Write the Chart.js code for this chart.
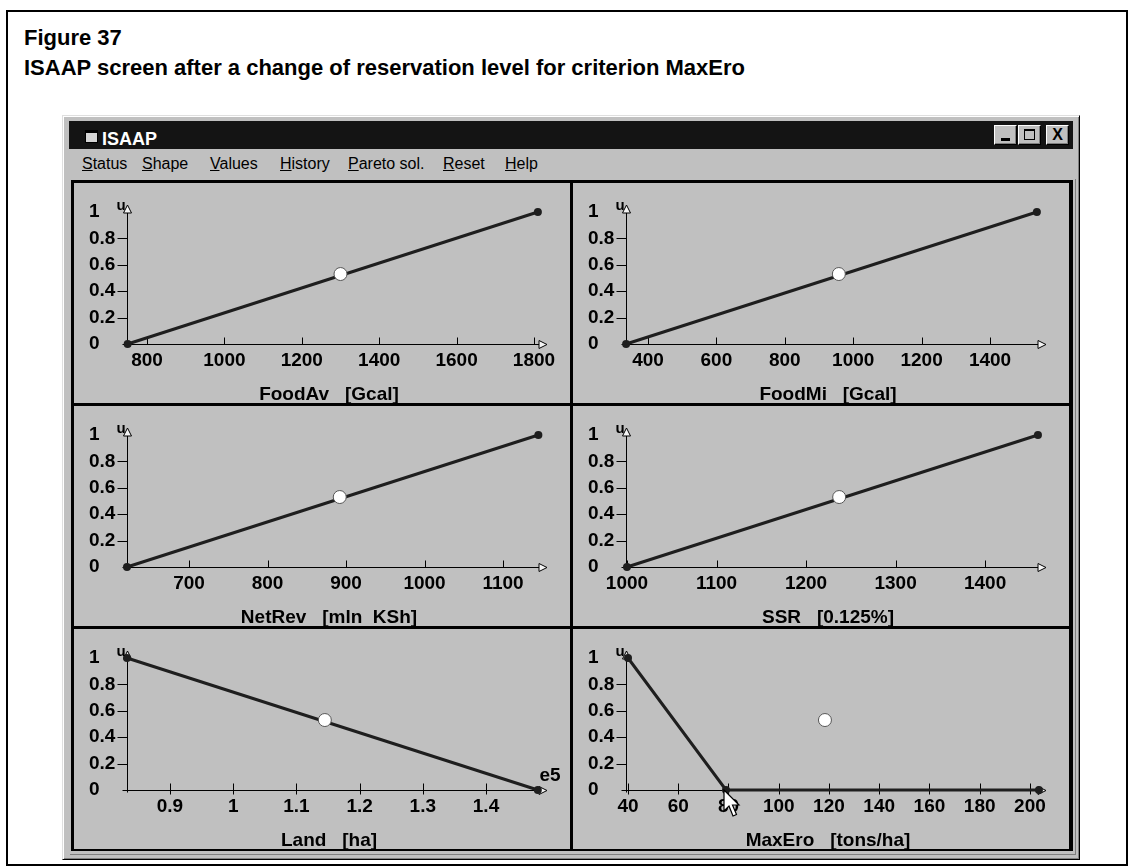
<!DOCTYPE html>
<html>
<head>
<meta charset="utf-8">
<title>ISAAP</title>
<script src="https://cdn.jsdelivr.net/npm/chart.js@4.4.1/dist/chart.umd.min.js"></script>
<style>
  body { margin:0; width:1128px; height:868px; background:#fff; position:relative; overflow:hidden; font-family:'Liberation Sans', Arial, sans-serif; }
  #marco { position:absolute; left:6px; top:10px; width:1118px; height:852px; border:2px solid #000; }
  .cap { position:absolute; left:24px; font-weight:bold; font-size:22px; line-height:24px; color:#000; white-space:nowrap; }
  #ventana { position:absolute; left:62px; top:115px; width:1018px; height:745px; box-sizing:border-box; background:#c0c0c0;
             border:1px solid; border-color:#dfdfdf #000 #000 #dfdfdf; box-shadow: inset 1px 1px #fff, inset -1px -1px #808080; }
  #barra { position:absolute; left:69px; top:121px; width:1004px; height:28px; background:#141414; }
  #icono { position:absolute; left:85px; top:130px; width:11px; height:9px; background:#d4d4d4; border:1px solid #000; border-top-width:3px; }
  #nombre { position:absolute; left:102px; top:130px; color:#fff; font-weight:bold; font-size:18px; line-height:18px; }
  .boton { position:absolute; top:125px; width:23px; height:20px; box-sizing:border-box; background:#c0c0c0;
           border:1px solid; border-color:#fff #000 #000 #fff; box-shadow: inset -1px -1px #808080; }
  .menu { position:absolute; top:156px; font-size:16px; line-height:16px; color:#000; white-space:nowrap; }
  #rejilla { position:absolute; left:71px; top:180px; width:1002px; height:671px; background:#000; }
  #borde2 { position:absolute; left:70px; top:179px; width:1006px; height:676px; box-sizing:border-box; border-right:1px solid #808080; border-bottom:1px solid #808080; }
  canvas.panel { position:absolute; background:#c0c0c0; }
  #cursor { position:absolute; left:723px; top:789px; }
</style>
</head>
<body>
<div id="marco"></div>
<div class="cap" style="top:26px">Figure 37</div>
<div class="cap" style="top:56px">ISAAP screen after a change of reservation level for criterion MaxEro</div>

<div id="ventana"></div>
<div id="barra"></div>
<div id="icono"></div>
<div id="nombre">ISAAP</div>
<div class="boton" style="left:994px"><div style="position:absolute;left:6px;top:12px;width:9px;height:3px;background:#000"></div></div>
<div class="boton" style="left:1018px"><div style="position:absolute;left:5px;top:3px;width:9px;height:8px;border:1px solid #000;border-top-width:2px"></div></div>
<div class="boton" style="left:1046px;text-align:center;font-weight:bold;font-size:16px;line-height:18px">X</div>

<div class="menu" style="left:82px"><u>S</u>tatus</div>
<div class="menu" style="left:142px"><u>S</u>hape</div>
<div class="menu" style="left:210px"><u>V</u>alues</div>
<div class="menu" style="left:280px"><u>H</u>istory</div>
<div class="menu" style="left:348px"><u>P</u>areto sol.</div>
<div class="menu" style="left:443px"><u>R</u>eset</div>
<div class="menu" style="left:505px"><u>H</u>elp</div>

<div id="borde2"></div>
<div id="rejilla">
  <canvas class="panel" width="496" height="220" style="left:3px;top:3px"></canvas>
  <canvas class="panel" width="496" height="220" style="left:502px;top:3px"></canvas>
  <canvas class="panel" width="496" height="220" style="left:3px;top:226px"></canvas>
  <canvas class="panel" width="496" height="220" style="left:502px;top:226px"></canvas>
  <canvas class="panel" width="496" height="220" style="left:3px;top:449px"></canvas>
  <canvas class="panel" width="496" height="220" style="left:502px;top:449px"></canvas>
</div>

<svg id="cursor" width="20" height="30" viewBox="0 0 20 30">
  <path d="M1 1 L1 22 L6 17 L10 27 L13.5 25.5 L9.5 16 L16 16 Z" fill="#fff" stroke="#000" stroke-width="1.2"/>
</svg>

<script>
// --- DATOS ---
const titulosEjes = ['FoodAv   [Gcal]', 'FoodMi   [Gcal]', 'NetRev   [mln  KSh]', 'SSR   [0.125%]', 'Land   [ha]', 'MaxEro   [tons/ha]'];
const ticksX = [
  [800, 1000, 1200, 1400, 1600, 1800],
  [400, 600, 800, 1000, 1200, 1400],
  [700, 800, 900, 1000, 1100],
  [1000, 1100, 1200, 1300, 1400],
  [0.9, 1, 1.1, 1.2, 1.3, 1.4],          // Land en unidades de e5
  [40, 60, 80, 100, 120, 140, 160, 180, 200]
];
const rangoX = [[748.3, 1833.6], [335.7, 1563.7], [621, 1156], [998.9, 1468], [0.832, 1.4965], [39.2, 206.4]];
const ticksY = [0, 0.2, 0.4, 0.6, 0.8, 1];
const maxY = 1.053;

// funcion de logro de cada criterio (x, u)
const curvaX = [[750, 1810], [336, 1537], [621, 1145], [1000, 1459], [0.832, 1.482], [40, 79, 203.6]];
const curvaU = [[0, 1], [0, 1], [0, 1], [0, 1], [1, 0], [1, 0, 0]];
// solucion actual (circulo blanco)
const actualX = [1300, 958, 892, 1237, 1.145, 118.4];
const actualU = [0.53, 0.53, 0.53, 0.53, 0.53, 0.53];
const exponentes = ['', '', '', '', 'e5', ''];

const fuente = "'Liberation Sans', Arial, sans-serif";
Chart.defaults.font.family = fuente;
Chart.defaults.color = '#000';

// Ejes con flechas abiertas, marcas, la etiqueta "u" y el titulo del eje
const ejesISAAP = {
  id: 'ejesISAAP',
  beforeDatasetsDraw(chart, args, opts) {
    const { ctx, chartArea: a, scales: { x, y } } = chart;
    const x0 = Math.round(a.left) + 0.5;
    const y0 = Math.round(y.getPixelForValue(0)) + 0.5;
    ctx.save();
    ctx.strokeStyle = '#000';
    ctx.lineWidth = 1;
    ctx.beginPath();
    ctx.moveTo(x0, y0 + 2); ctx.lineTo(x0, a.top + 8);
    ctx.moveTo(x0 - 5, y0); ctx.lineTo(a.right - 8, y0);
    ticksY.forEach(v => {
      if (v > 0 && v < 1) {
        const p = Math.round(y.getPixelForValue(v)) + 0.5;
        ctx.moveTo(x0 - 10, p); ctx.lineTo(x0, p);
      }
    });
    opts.marcas.forEach(v => {
      const p = Math.round(x.getPixelForValue(v)) + 0.5;
      ctx.moveTo(p, y0 - 7); ctx.lineTo(p, y0 + opts.bajo);
    });
    ctx.stroke();
    // flecha arriba
    ctx.fillStyle = '#f4f4f4';
    ctx.beginPath();
    ctx.moveTo(x0, a.top); ctx.lineTo(x0 + 4, a.top + 8); ctx.lineTo(x0 - 4, a.top + 8); ctx.closePath();
    ctx.fill(); ctx.stroke();
    // flecha derecha
    ctx.beginPath();
    ctx.moveTo(a.right, y0); ctx.lineTo(a.right - 8, y0 - 4); ctx.lineTo(a.right - 8, y0 + 4); ctx.closePath();
    ctx.fill(); ctx.stroke();
    ctx.restore();
  },
  afterDatasetsDraw(chart, args, opts) {
    const { ctx, chartArea: a, scales: { y } } = chart;
    ctx.save();
    ctx.fillStyle = '#000';
    ctx.textAlign = 'center';
    ctx.textBaseline = 'middle';
    ctx.font = 'bold 15px ' + fuente;
    ctx.fillText('u', a.left - 6, a.top + 1);
    ctx.font = 'bold 19px ' + fuente;
    if (opts.exp) {
      ctx.fillText(opts.exp, a.right + 3, y.getPixelForValue(0) - 14);
    }
    // titulo del eje x, un poco a la izquierda del centro como en la pantalla original
    ctx.textBaseline = 'alphabetic';
    ctx.fillText(opts.titulo, (a.left + a.right) / 2 - 8, chart.height - 3);
    ctx.restore();
  }
};

document.querySelectorAll('canvas.panel').forEach((lienzo, i) => {
  const curva = curvaX[i].map((v, k) => ({ x: v, y: curvaU[i][k] }));
  new Chart(lienzo, {
    type: 'scatter',
    data: {
      datasets: [
        { data: [{ x: actualX[i], y: actualU[i] }], pointRadius: 6.5, pointBackgroundColor: '#fff',
          pointBorderColor: '#555', pointBorderWidth: 1, order: 0, clip: false },
        { data: curva, showLine: true, borderColor: '#1e1e1e', borderWidth: 3, pointRadius: 4,
          pointBackgroundColor: '#1e1e1e', pointBorderWidth: 0, order: 1, clip: false }
      ]
    },
    options: {
      responsive: false,
      animation: false,
      devicePixelRatio: 1,
      events: [],
      layout: { padding: { left: 15, right: 23, top: 22, bottom: 0 } },
      plugins: {
        legend: { display: false },
        tooltip: { enabled: false },
        ejesISAAP: { marcas: ticksX[i], bajo: i >= 4 ? 4 : 0, exp: exponentes[i], titulo: titulosEjes[i] }
      },
      scales: {
        x: {
          type: 'linear', min: rangoX[i][0], max: rangoX[i][1],
          grid: { display: false, drawTicks: false },
          border: { display: false },
          afterBuildTicks: ax => { ax.ticks = ticksX[i].map(v => ({ value: v })); },
          afterFit: s => { s.height = 59; },
          ticks: { autoSkip: false, maxRotation: 0, padding: 5, callback: v => String(v),
                   font: { size: 19, weight: 'bold', lineHeight: 1.2 } }
        },
        y: {
          type: 'linear', min: 0, max: maxY,
          grid: { display: false, drawTicks: false },
          border: { display: false },
          afterBuildTicks: ax => { ax.ticks = ticksY.map(v => ({ value: v })); },
          afterFit: s => { s.width = 38; },
          ticks: { crossAlign: 'far', padding: 0, callback: v => String(v),
                   font: { size: 19, weight: 'bold' } }
        }
      }
    },
    plugins: [ejesISAAP]
  });
});
</script>
</body>
</html>
